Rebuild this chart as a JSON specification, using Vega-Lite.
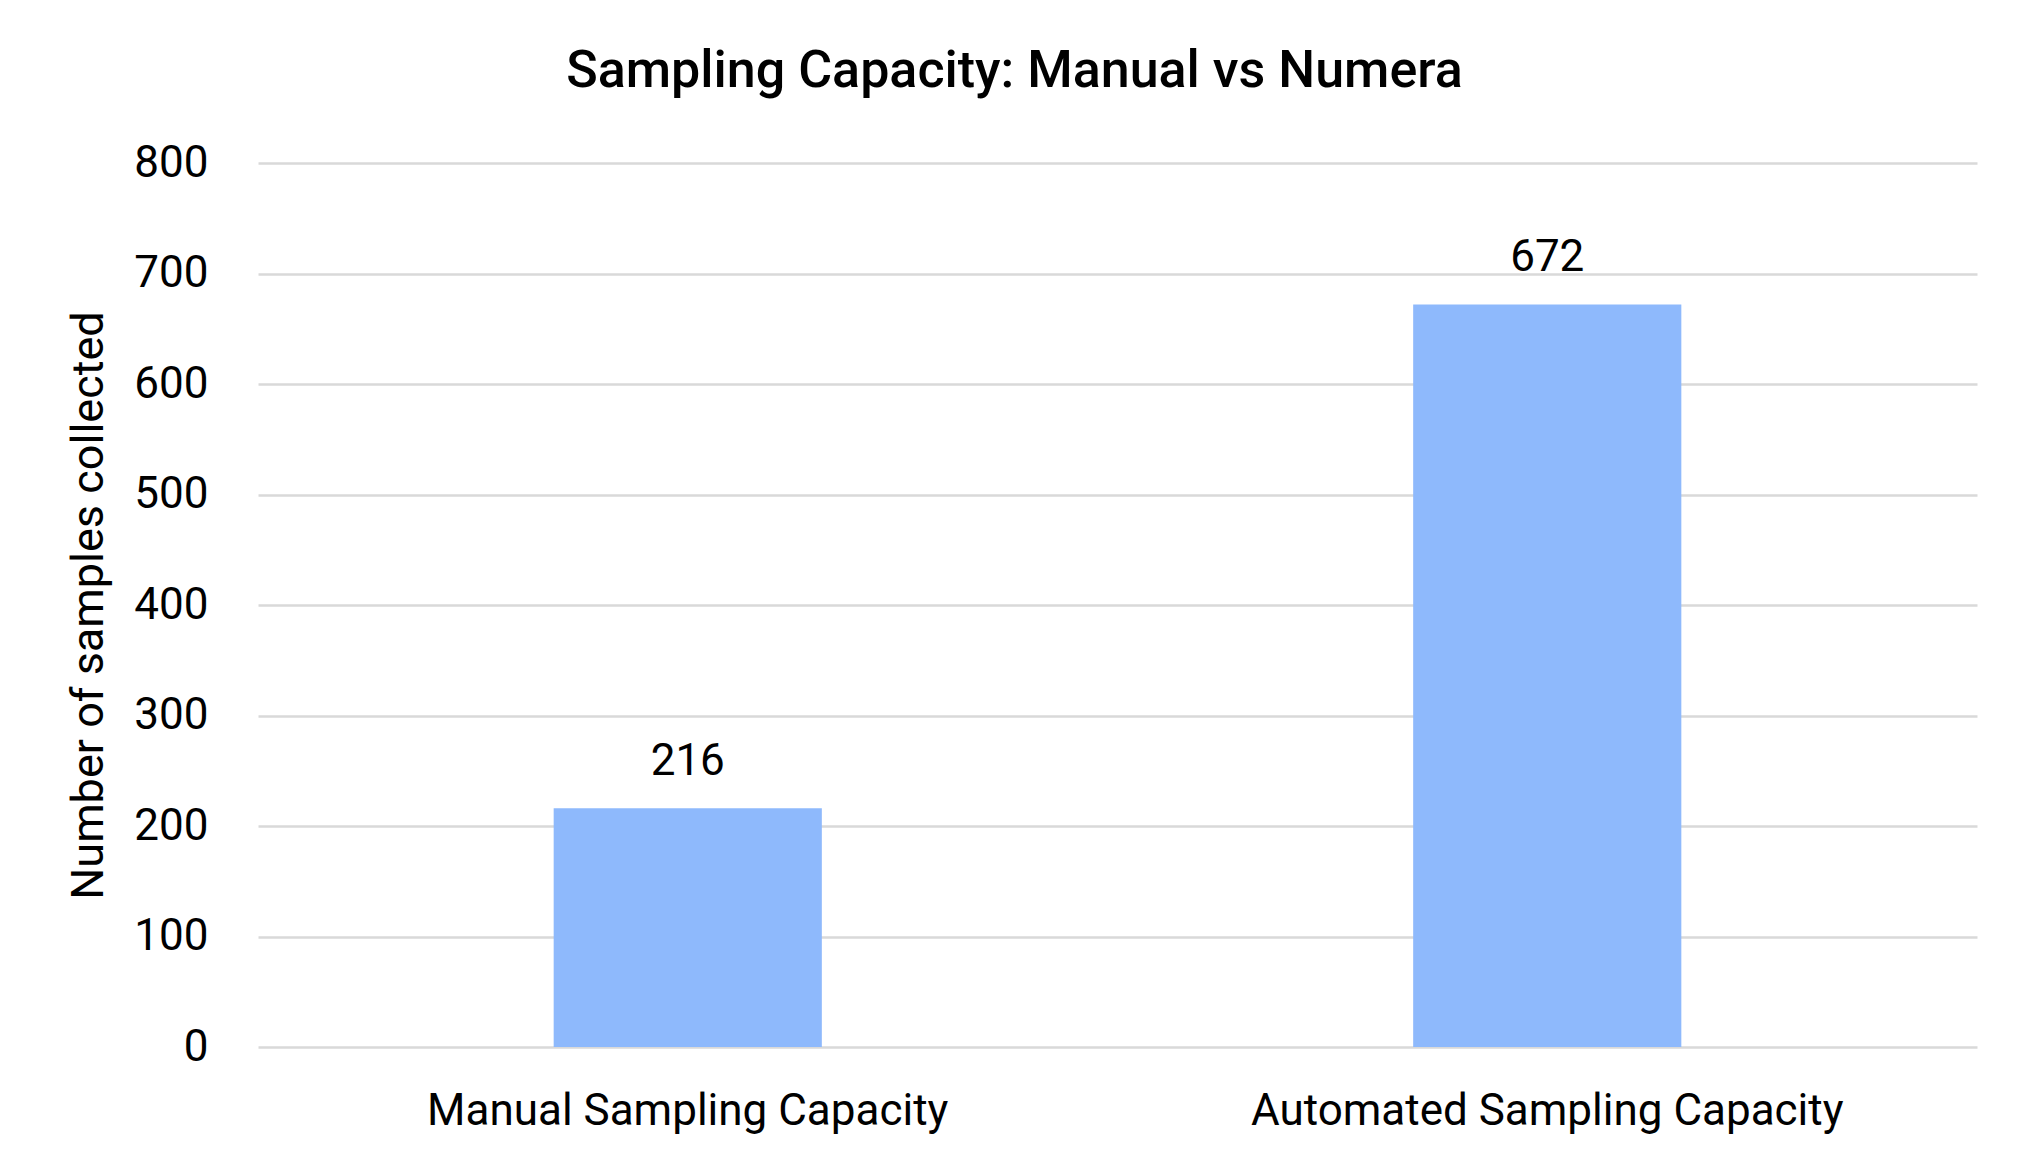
{
  "$schema": "https://vega.github.io/schema/vega-lite/v6.json",
  "autosize": "none",
  "width": 1719,
  "height": 884,
  "padding": {"left": 258, "top": 163, "right": 53, "bottom": 126},
  "background": "white",
  "title": {
    "text": "Sampling Capacity: Manual vs Numera",
    "anchor": "middle",
    "frame": "group",
    "dx": -103,
    "offset": 43,
    "font": "Roboto",
    "fontSize": 52,
    "fontWeight": 500,
    "color": "#000000"
  },
  "data": {
    "values": [
      {"category": "Manual Sampling Capacity", "samples": 216},
      {"category": "Automated Sampling Capacity", "samples": 672}
    ]
  },
  "encoding": {
    "x": {
      "field": "category",
      "type": "nominal",
      "sort": null,
      "title": null,
      "scale": {"paddingInner": 0.688, "paddingOuter": 0.344},
      "axis": {
        "labelAngle": 0,
        "labelLimit": 0,
        "domain": false,
        "ticks": false,
        "labelPadding": 42,
        "labelFont": "Roboto",
        "labelFontSize": 44,
        "labelColor": "#000000"
      }
    },
    "y": {
      "field": "samples",
      "type": "quantitative",
      "title": "Number of samples collected",
      "scale": {"domain": [0, 800], "nice": false},
      "axis": {
        "values": [0, 100, 200, 300, 400, 500, 600, 700, 800],
        "domain": false,
        "ticks": false,
        "labelPadding": 50,
        "labelFont": "Roboto",
        "labelFontSize": 44,
        "labelColor": "#000000",
        "titleFont": "Roboto",
        "titleFontSize": 45,
        "titleFontWeight": "normal",
        "titleColor": "#000000",
        "titlePadding": 22,
        "gridColor": "#d9d9d9",
        "gridWidth": 2.5
      }
    }
  },
  "layer": [
    {"mark": {"type": "bar", "color": "#8eb9fc"}},
    {
      "mark": {
        "type": "text",
        "baseline": "alphabetic",
        "dy": -33,
        "font": "Roboto",
        "fontSize": 44,
        "color": "#000000"
      },
      "encoding": {"text": {"field": "samples", "type": "quantitative"}}
    }
  ],
  "config": {"view": {"stroke": null}}
}
